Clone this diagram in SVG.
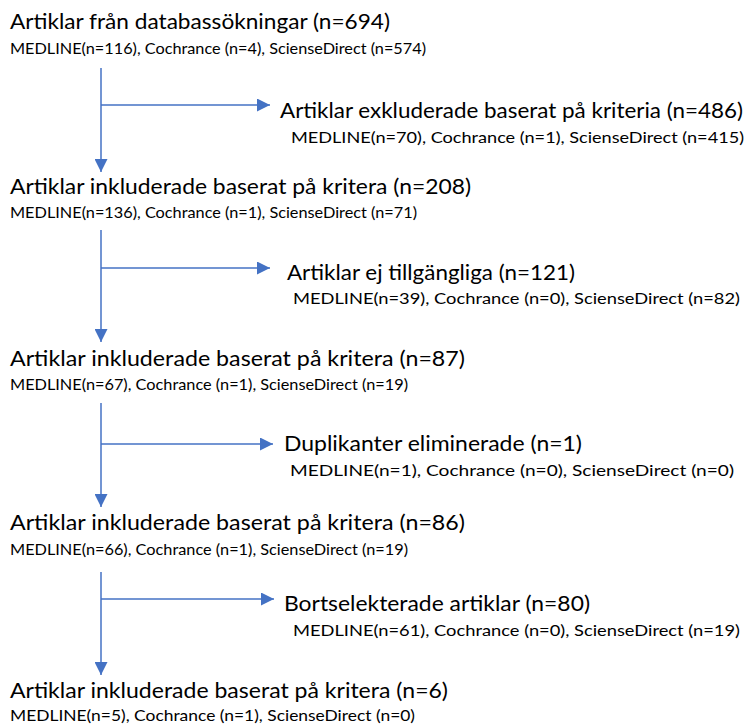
<svg xmlns="http://www.w3.org/2000/svg" width="750" height="726" viewBox="0 0 750 726">
<defs>
<style>
.t{font-family:Lato,"Open Sans","Liberation Sans",sans-serif;font-size:22px;fill:#000}
.s{font-family:Lato,"Open Sans","Liberation Sans",sans-serif;font-size:15px;fill:#000}
.c{stroke:#4472C4;stroke-width:1.5;fill:none}
</style>
<marker id="ah" markerWidth="10" markerHeight="10" viewBox="0 0 10 10" refX="10" refY="5" orient="auto" markerUnits="userSpaceOnUse">
<path d="M0,0 L10,5 L0,10 Z" fill="#4472C4"/>
</marker>
<marker id="ahd" markerWidth="14" markerHeight="13" viewBox="0 0 14 13" refX="13" refY="6.5" orient="auto" markerUnits="userSpaceOnUse">
<path d="M0,0 L13,6.5 L0,13 Z" fill="#4472C4"/>
</marker>
</defs>
<rect width="750" height="726" fill="#fff"/>
<g id="connectors">
<line class="c" x1="101" y1="68" x2="101" y2="172" marker-end="url(#ahd)"/>
<line class="c" x1="101" y1="105" x2="270" y2="105" marker-end="url(#ahd)"/>
<line class="c" x1="101" y1="230" x2="101" y2="342" marker-end="url(#ahd)"/>
<line class="c" x1="101" y1="268" x2="270" y2="268" marker-end="url(#ahd)"/>
<line class="c" x1="101" y1="403" x2="101" y2="507" marker-end="url(#ahd)"/>
<line class="c" x1="101" y1="444" x2="273" y2="444" marker-end="url(#ahd)"/>
<line class="c" x1="101" y1="572" x2="101" y2="675" marker-end="url(#ahd)"/>
<line class="c" x1="101" y1="599" x2="274" y2="599" marker-end="url(#ahd)"/>
</g>
<g id="n1">
<text class="t" x="10" y="29" textLength="380" lengthAdjust="spacingAndGlyphs">Artiklar från databassökningar (n=694)</text>
<text class="s" x="10" y="54" textLength="416" lengthAdjust="spacingAndGlyphs">MEDLINE(n=116), Cochrance (n=4), ScienseDirect (n=574)</text>
</g>
<g id="e1">
<text class="t" x="280" y="118" textLength="463" lengthAdjust="spacingAndGlyphs">Artiklar exkluderade baserat på kriteria (n=486)</text>
<text class="s" x="291" y="143" textLength="453" lengthAdjust="spacingAndGlyphs">MEDLINE(n=70), Cochrance (n=1), ScienseDirect (n=415)</text>
</g>
<g id="n2">
<text class="t" x="10" y="194" textLength="461" lengthAdjust="spacingAndGlyphs">Artiklar inkluderade baserat på kritera (n=208)</text>
<text class="s" x="10" y="218" textLength="407" lengthAdjust="spacingAndGlyphs">MEDLINE(n=136), Cochrance (n=1), ScienseDirect (n=71)</text>
</g>
<g id="e2">
<text class="t" x="287" y="280" textLength="288" lengthAdjust="spacingAndGlyphs">Artiklar ej tillgängliga (n=121)</text>
<text class="s" x="293" y="304" textLength="447" lengthAdjust="spacingAndGlyphs">MEDLINE(n=39), Cochrance (n=0), ScienseDirect (n=82)</text>
</g>
<g id="n3">
<text class="t" x="10" y="366" textLength="455" lengthAdjust="spacingAndGlyphs">Artiklar inkluderade baserat på kritera (n=87)</text>
<text class="s" x="10" y="390" textLength="398" lengthAdjust="spacingAndGlyphs">MEDLINE(n=67), Cochrance (n=1), ScienseDirect (n=19)</text>
</g>
<g id="e3">
<text class="t" x="284" y="451" textLength="298" lengthAdjust="spacingAndGlyphs">Duplikanter eliminerade (n=1)</text>
<text class="s" x="290" y="476" textLength="444" lengthAdjust="spacingAndGlyphs">MEDLINE(n=1), Cochrance (n=0), ScienseDirect (n=0)</text>
</g>
<g id="n4">
<text class="t" x="10" y="530" textLength="455" lengthAdjust="spacingAndGlyphs">Artiklar inkluderade baserat på kritera (n=86)</text>
<text class="s" x="10" y="555" textLength="398" lengthAdjust="spacingAndGlyphs">MEDLINE(n=66), Cochrance (n=1), ScienseDirect (n=19)</text>
</g>
<g id="e4">
<text class="t" x="284" y="611" textLength="306" lengthAdjust="spacingAndGlyphs">Bortselekterade artiklar (n=80)</text>
<text class="s" x="293" y="636" textLength="447" lengthAdjust="spacingAndGlyphs">MEDLINE(n=61), Cochrance (n=0), ScienseDirect (n=19)</text>
</g>
<g id="n5">
<text class="t" x="10" y="698" textLength="438" lengthAdjust="spacingAndGlyphs">Artiklar inkluderade baserat på kritera (n=6)</text>
<text class="s" x="10" y="721" textLength="405" lengthAdjust="spacingAndGlyphs">MEDLINE(n=5), Cochrance (n=1), ScienseDirect (n=0)</text>
</g>
</svg>
